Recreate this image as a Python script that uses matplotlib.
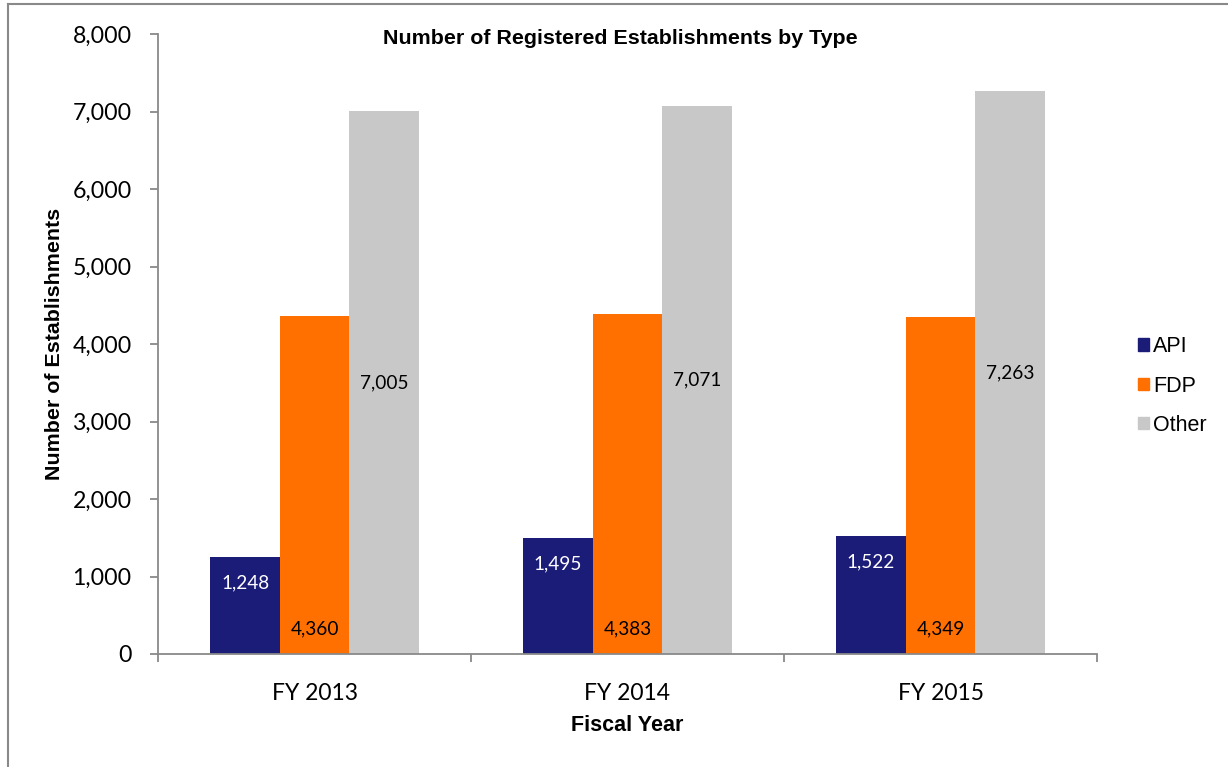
import numpy as np
import matplotlib.pyplot as plt
from matplotlib.lines import Line2D
from matplotlib.patches import Patch

years = ["FY 2013", "FY 2014", "FY 2015"]
api = [1248, 1495, 1522]
fdp = [4360, 4383, 4349]
other = [7005, 7071, 7263]
series_names = ["API", "FDP", "Other"]
colors = ["#1b1b78", "#ff7000", "#c8c8c8"]

TICK_FONT = "Lato"
BOLD_FONT = "Liberation Sans"
GRAY = "#898989"


def main():
    fig = plt.figure(figsize=(12.28, 7.67), dpi=100)
    ax = fig.add_axes([158 / 1228, 113 / 767, 939 / 1228, 620 / 767])

    x = np.arange(len(years))
    w = 0.222
    bars_api = ax.bar(x - w, api, w, color=colors[0])
    bars_fdp = ax.bar(x, fdp, w, color=colors[1])
    bars_oth = ax.bar(x + w, other, w, color=colors[2])

    # labels: API inside end (white), FDP inside base, Other centered
    for b, v in zip(bars_api, api):
        ax.text(b.get_x() + b.get_width() / 2, v - 330, f"{v:,}",
                ha="center", va="center", color="white",
                fontsize=13.7, family=TICK_FONT)
    for b, v in zip(bars_fdp, fdp):
        ax.text(b.get_x() + b.get_width() / 2, 330, f"{v:,}",
                ha="center", va="center", color="black",
                fontsize=13.7, family=TICK_FONT)
    for b, v in zip(bars_oth, other):
        ax.text(b.get_x() + b.get_width() / 2, v / 2, f"{v:,}",
                ha="center", va="center", color="black",
                fontsize=13.7, family=TICK_FONT)

    ax.set_xlim(-0.5, 2.5)
    ax.set_ylim(0, 8000)
    ax.set_yticks(range(0, 8001, 1000))
    ax.set_yticklabels([f"{v:,}" for v in range(0, 8001, 1000)],
                       family=TICK_FONT, fontsize=16.7)
    ax.set_xticks(x)
    ax.set_xticklabels(years, family=TICK_FONT, fontsize=16.5)
    ax.set_xticks([-0.5, 0.5, 1.5, 2.5], minor=True)
    ax.tick_params(axis="x", which="major", length=0, pad=21)
    ax.tick_params(axis="x", which="minor", length=6, width=1.3, color=GRAY)
    ax.tick_params(axis="y", length=6, width=1.3, color=GRAY, pad=13)

    for s in ["top", "right"]:
        ax.spines[s].set_visible(False)
    for s in ["left", "bottom"]:
        ax.spines[s].set_color(GRAY)
        ax.spines[s].set_linewidth(1.3)

    ax.set_ylabel("Number of Establishments", family=BOLD_FONT,
                  fontweight="bold", fontsize=15.4, labelpad=6)
    ax.set_xlabel("Fiscal Year", family=BOLD_FONT, fontweight="bold",
                  fontsize=15.5, labelpad=8)
    fig.text(620 / 1228, 1 - 38 / 767,
             "Number of Registered Establishments by Type",
             ha="center", va="center", family=BOLD_FONT,
             fontweight="bold", fontsize=15.4)

    handles = [Patch(color=c) for c in colors]
    fig.legend(handles, series_names, loc="center left",
               bbox_to_anchor=(1119 / 1228, 1 - 386 / 767),
               frameon=False, prop={"family": BOLD_FONT, "size": 15.5},
               handlelength=0.5, handleheight=0.5, handletextpad=0.2,
               labelspacing=0.85)

    # outer chart frame
    fig.add_artist(Line2D([7.5 / 1228, 7.5 / 1228], [0, 1 - 3.5 / 767],
                          transform=fig.transFigure, color=GRAY, lw=1.5))
    fig.add_artist(Line2D([7.5 / 1228, 1], [1 - 3.5 / 767, 1 - 3.5 / 767],
                          transform=fig.transFigure, color=GRAY, lw=1.5))

    fig.savefig("out.png", dpi=100)
    plt.close(fig)


if __name__ == "__main__":
    main()
